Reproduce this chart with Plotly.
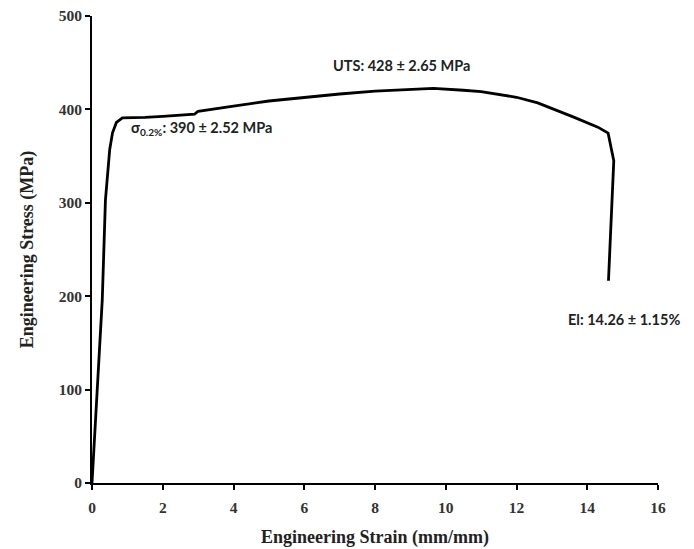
import plotly.graph_objects as go

# Engineering strain (mm/mm) and stress (MPa)
strain = [0, 0.29, 0.38, 0.50, 0.58, 0.69, 0.86, 1.2, 1.5, 2.0, 2.5, 2.9, 3.0, 3.5, 4.0,
          5.0, 6.0, 7.0, 8.0, 9.0, 9.65, 10.5, 11.0, 12.0, 12.6, 13.6, 14.3, 14.59, 14.75, 14.6]
stress = [0, 196, 303, 357, 375, 386, 391, 391, 391.5, 392.5, 394, 395, 398, 401, 403.5,
          409, 413, 416.5, 419.5, 421.5, 422.5, 420.5, 419, 413, 407, 392, 381, 374.6, 345, 216.6]

x_ticks = [0, 2, 4, 6, 8, 10, 12, 14, 16]
y_ticks = [0, 100, 200, 300, 400, 500]

labels = [
    {"text": "UTS: 428 ± 2.65 MPa", "x": 8.75, "y": 447, "xanchor": "center"},
    {"text": "σ<sub>0.2%</sub>: 390 ± 2.52 MPa", "x": 1.05, "y": 380, "xanchor": "left"},
    {"text": "El: 14.26 ± 1.15%", "x": 13.4, "y": 175, "xanchor": "left"},
]

fig = go.Figure()
fig.add_trace(go.Scatter(x=strain, y=stress, mode="lines",
                         line=dict(color="black", width=2.8), showlegend=False))

for lb in labels:
    fig.add_annotation(x=lb["x"], y=lb["y"], text=lb["text"], showarrow=False,
                       xanchor=lb["xanchor"], yanchor="middle",
                       font=dict(family="Lato, Open Sans, sans-serif", size=14.5,
                                 color="#222", weight="bold"))

axis_common = dict(showline=True, linecolor="black", linewidth=2, ticks="outside",
                   ticklen=5, tickwidth=2, tickcolor="black", showgrid=False, zeroline=False,
                   automargin=False, ticklabeloverflow="allow",
                   tickfont=dict(family="Liberation Serif, serif", size=15.5, color="#333",
                                 weight="bold"))

fig.update_xaxes(range=[0, 16], tickvals=x_ticks, ticklabelstandoff=4,
                 title=dict(text="Engineering Strain (mm/mm)", standoff=16,
                            font=dict(family="Liberation Serif, serif", size=18, color="#222",
                                      weight="bold")),
                 **axis_common)
fig.update_yaxes(range=[0, 500], tickvals=y_ticks,
                 title=dict(text="Engineering Stress (MPa)", standoff=20,
                            font=dict(family="Liberation Serif, serif", size=18, color="#222",
                                      weight="bold")),
                 **axis_common)

# page body has an 8px default margin, so the figure is sized/offset to compensate
fig.update_layout(width=686, height=541, plot_bgcolor="white", paper_bgcolor="white",
                  margin=dict(l=84, r=36, t=8, b=66))

fig.write_html("out.html")
